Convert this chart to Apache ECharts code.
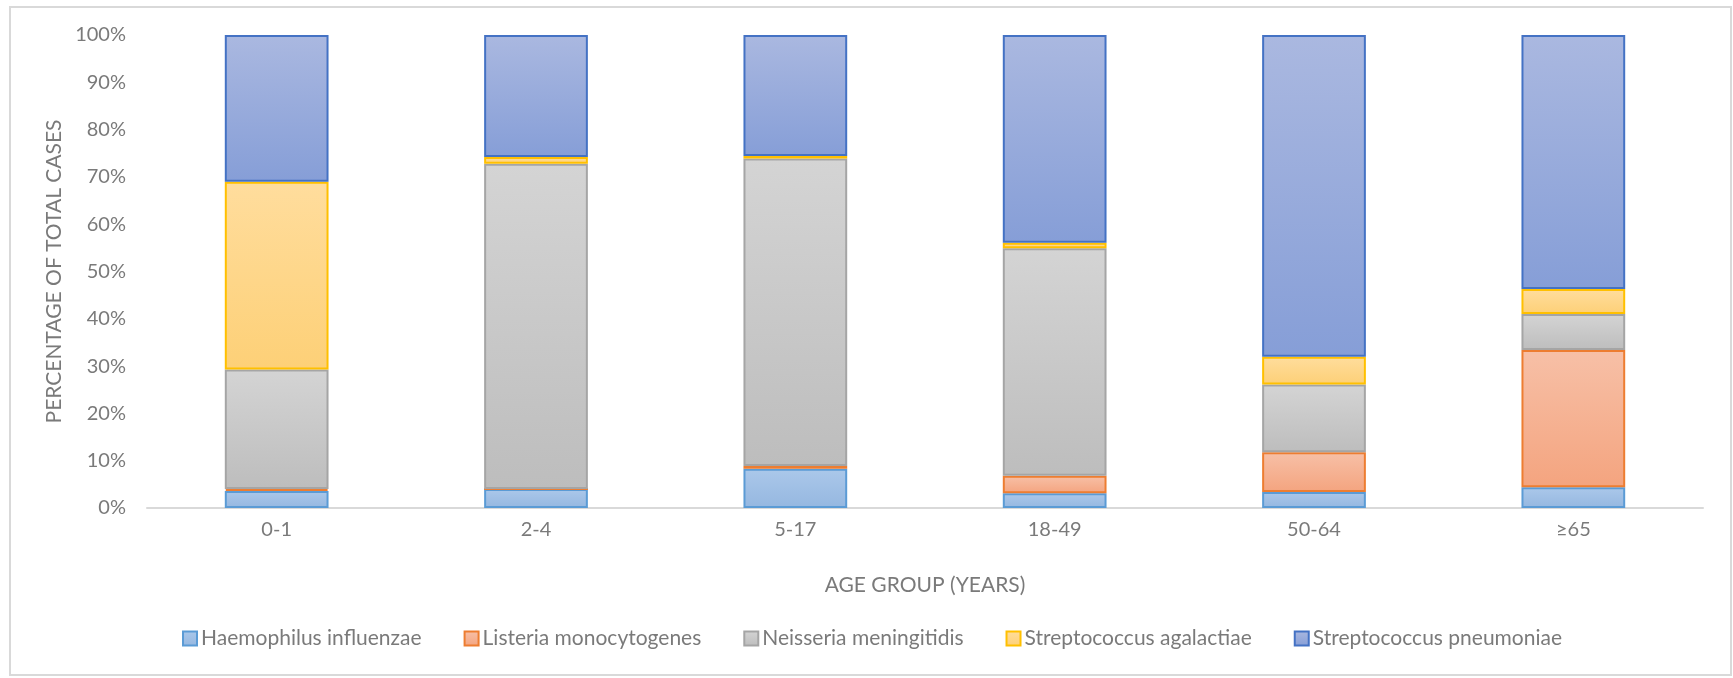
<!DOCTYPE html>
<html>
<head>
<meta charset="utf-8">
<title>Bacterial meningitis cases by age group</title>
<script src="https://cdn.jsdelivr.net/npm/echarts@6/dist/echarts.min.js"></script>
<style>
  html, body { margin: 0; padding: 0; background: #fff; }
  #chart { width: 1733px; height: 678px; }
</style>
</head>
<body>
<div id="chart"></div>
<script>
// Age groups on the x axis
const ageGroups = ['0-1', '2-4', '5-17', '18-49', '50-64', '≥65'];

// Share of total cases (%) per pathogen, stacked bottom to top
const haemophilus = [3.6, 4.0, 8.3, 3.1, 3.4, 4.4];
const listeria    = [0.4, 0.0, 0.6, 3.7, 8.4, 29.0];
const neisseria   = [25.3, 68.8, 65.0, 48.1, 14.3, 7.6];
const agalactiae  = [39.7, 1.4, 0.5, 1.2, 5.9, 5.3];
const pneumoniae  = [31.0, 25.8, 25.6, 43.9, 68.0, 53.7];

const yTicks = [0, 10, 20, 30, 40, 50, 60, 70, 80, 90, 100];

const FONT = 'Lato, "Liberation Sans", sans-serif';
const TEXT = '#7a7a7a';

function grad(top, bottom) {
  return new echarts.graphic.LinearGradient(0, 0, 0, 1, [
    { offset: 0, color: top },
    { offset: 1, color: bottom }
  ]);
}

const seriesDefs = [
  { name: 'Haemophilus influenzae', data: haemophilus, top: '#abc8ea', bottom: '#95b7e0', border: '#5b9bd5' },
  { name: 'Listeria monocytogenes', data: listeria,    top: '#f7c0a7', bottom: '#f4a47f', border: '#ed7d31' },
  { name: 'Neisseria meningitidis', data: neisseria,   top: '#d4d4d4', bottom: '#bdbdbd', border: '#a5a5a5' },
  { name: 'Streptococcus agalactiae', data: agalactiae, top: '#ffdd9d', bottom: '#fdd077', border: '#ffc000' },
  { name: 'Streptococcus pneumoniae', data: pneumoniae, top: '#aab8e0', bottom: '#869ed7', border: '#4472c4' }
];

const chart = echarts.init(document.getElementById('chart'), null, { renderer: 'canvas' });

chart.setOption({
  backgroundColor: '#fff',
  animation: false,
  textStyle: { fontFamily: FONT },
  graphic: [{
    type: 'rect',
    shape: { x: 10, y: 7, width: 1721, height: 668 },
    style: { fill: 'none', stroke: '#d9d9d9', lineWidth: 2 },
    silent: true,
    z: -1
  }],
  grid: { left: 147, right: 30, top: 35, bottom: 170, containLabel: false },
  legend: {
    bottom: 24,
    left: 177,
    itemWidth: 14,
    itemHeight: 14,
    itemGap: 42,
    icon: 'rect',
    textStyle: { color: TEXT, fontSize: 21, fontFamily: FONT, padding: [0, 0, 0, -1] },
    data: seriesDefs.map(s => s.name)
  },
  xAxis: {
    type: 'category',
    data: ageGroups,
    name: 'AGE GROUP (YEARS)',
    nameLocation: 'middle',
    nameGap: 67,
    nameTextStyle: { color: TEXT, fontSize: 21, fontFamily: FONT },
    axisLine: { lineStyle: { color: '#d9d9d9', width: 2 } },
    axisTick: { show: false },
    axisLabel: { color: TEXT, fontSize: 20, fontFamily: FONT, margin: 12 }
  },
  yAxis: {
    type: 'value',
    min: yTicks[0],
    max: yTicks[yTicks.length - 1],
    interval: yTicks[1] - yTicks[0],
    name: 'PERCENTAGE OF TOTAL CASES',
    nameLocation: 'middle',
    nameRotate: 90,
    nameGap: 82,
    nameTextStyle: { color: TEXT, fontSize: 21, fontFamily: FONT },
    axisLine: { show: false },
    axisTick: { show: false },
    splitLine: { show: false },
    axisLabel: { color: TEXT, fontSize: 20, fontFamily: FONT, margin: 21, formatter: '{value}%' }
  },
  series: seriesDefs.map(s => ({
    name: s.name,
    type: 'bar',
    stack: 'cases',
    barWidth: '40%',
    data: s.data,
    itemStyle: {
      color: grad(s.top, s.bottom),
      borderColor: s.border,
      borderWidth: 2
    },
    emphasis: { disabled: true }
  }))
});
</script>
</body>
</html>
